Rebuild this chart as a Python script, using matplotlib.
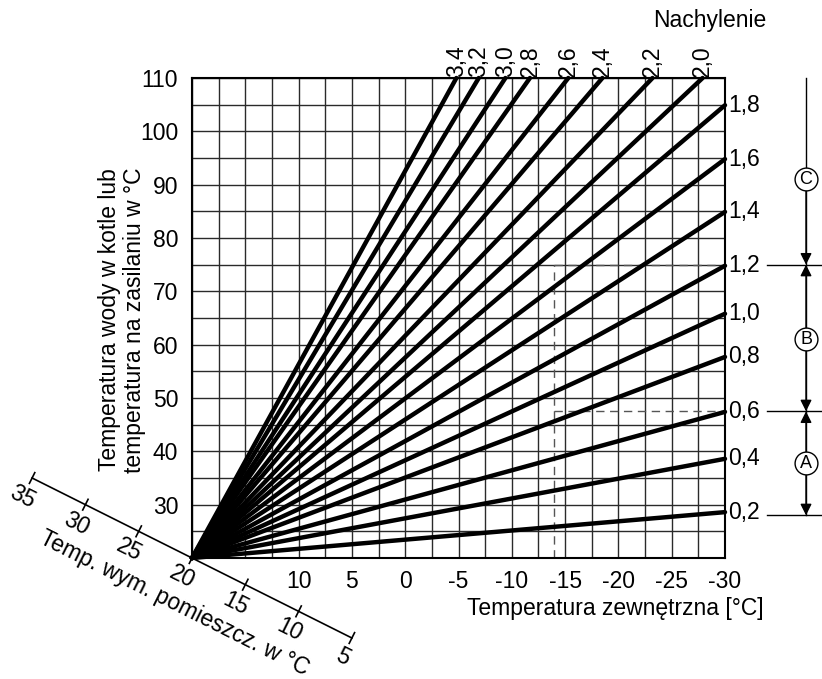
import matplotlib.pyplot as plt
import numpy as np

plt.rcParams['font.family'] = ['Liberation Sans', 'DejaVu Sans']

# heating curves, all start at room temp 20 / outside 20 / flow 20
slopes = ['0,2', '0,4', '0,6', '0,8', '1,0', '1,2', '1,4', '1,6', '1,8',
          '2,0', '2,2', '2,4', '2,6', '2,8', '3,0', '3,2', '3,4']
end_out = [-30, -30, -30, -30, -30, -30, -30, -30, -30,
           -27.9, -23.2, -18.5, -15.3, -11.7, -9.4, -6.9, -4.8]
end_flow = [28.6, 38.6, 47.4, 57.7, 65.8, 74.8, 84.9, 94.8, 104.9,
            110, 110, 110, 110, 110, 110, 110, 110]
origin = 20

x_ticks = [10, 5, 0, -5, -10, -15, -20, -25, -30]
y_ticks = [30, 40, 50, 60, 70, 80, 90, 100, 110]
room_ticks = [35, 30, 25, 20, 15, 10, 5]

# example reading (dashed) and zones A/B/C
ex_out = -14
ex_flow = [75, 47.5]
zone_edges = [28, 47.5, 75, 110]
zone_names = ['A', 'B', 'C']
zone_label_y = [37.8, 61, 91]

fs = 16.5
fig = plt.figure(figsize=(8.22, 6.79), dpi=100)
ax = fig.add_axes([192/822, 121/679, 533/822, 480/679])
ax.set_xlim(20, -30)
ax.set_ylim(20, 110)

ax.set_xticks(x_ticks)
ax.set_xticklabels([str(v) for v in x_ticks])
ax.set_yticks(y_ticks)
ax.set_xticks(np.arange(-30, 20.1, 2.5), minor=True)
ax.set_yticks(np.arange(20, 110.1, 5), minor=True)
ax.grid(which='both', color='#2a2a2a', lw=1.0)
ax.tick_params(which='both', length=0, labelsize=fs)
ax.tick_params(axis='x', pad=9)
ax.tick_params(axis='y', pad=10)
for s in ax.spines.values():
    s.set_linewidth(1.5)
ax.set_axisbelow(True)

for lab, xo, yf in zip(slopes, end_out, end_flow):
    ax.plot([origin, xo], [origin, yf], color='black', lw=3.2,
            solid_capstyle='round', clip_on=False, zorder=3)
    if yf >= 110:
        ax.annotate(lab, (xo, yf), xytext=(0, 1), textcoords='offset points',
                    rotation=90, ha='center', va='bottom', fontsize=fs)
    else:
        ax.annotate(lab, (xo, yf), xytext=(2, 0), textcoords='offset points',
                    ha='left', va='center', fontsize=fs)

# dashed reading lines
dash = dict(color='#555555', lw=1.0, dashes=(6, 4), zorder=2.5)
ax.plot([ex_out, ex_out], [20, ex_flow[0]], **dash)
for yv in ex_flow:
    ax.plot([ex_out, -30], [yv, yv], **dash)

# zone markers on the right
xz = -37.6
for yv in zone_edges[:3]:
    ax.plot([-33.9, -39.2], [yv, yv], color='black', lw=1.0, clip_on=False)
ax.plot([xz, xz], [zone_edges[0], zone_edges[3]], color='black', lw=1.0, clip_on=False)
arrow = dict(arrowstyle='-|>', color='black', lw=1.0, mutation_scale=17, shrinkA=0, shrinkB=0)
for lo, hi, nm, yl in zip(zone_edges[:3], zone_edges[1:], zone_names, zone_label_y):
    ax.annotate('', xy=(xz, lo), xytext=(xz, yl), arrowprops=arrow, annotation_clip=False)
    if nm != 'C':
        ax.annotate('', xy=(xz, hi), xytext=(xz, yl), arrowprops=arrow, annotation_clip=False)
    ax.scatter([xz], [yl], s=270, facecolor='white', edgecolor='black', lw=1.0,
               zorder=5, clip_on=False)
    ax.text(xz, yl, nm, ha='center', va='center', fontsize=13, zorder=6)

# oblique room-temperature axis (line flow = outside = room temp)
fig.canvas.draw()
tr = ax.transData
inv = tr.inverted()
p0 = tr.transform((room_ticks[0], room_ticks[0]))
p1 = tr.transform((room_ticks[-1], room_ticks[-1]))
d = (p1 - p0) / np.hypot(*(p1 - p0))
nrm = np.array([d[1], -d[0]])  # points below the line
ang = np.degrees(np.arctan2(d[1], d[0]))
ax.plot([room_ticks[0], room_ticks[-1]], [room_ticks[0], room_ticks[-1]],
        color='black', lw=1.2, clip_on=False)
for r in room_ticks:
    pc = tr.transform((r, r))
    a = inv.transform(pc + nrm * 6)
    b = inv.transform(pc - nrm * 6)
    ax.plot([a[0], b[0]], [a[1], b[1]], color='black', lw=1.2, clip_on=False)
    t = inv.transform(pc + nrm * 21)
    ax.text(t[0], t[1], str(r), rotation=ang, rotation_mode='anchor',
            ha='center', va='center', fontsize=fs, clip_on=False)
pc = tr.transform((19.6, 19.6))
t = inv.transform(pc + nrm * 48)
ax.text(t[0], t[1], 'Temp. wym. pomieszcz. w °C', rotation=ang, rotation_mode='anchor',
        ha='center', va='center', fontsize=fs, clip_on=False)

fig.text(710/822, 1 - 20/679, 'Nachylenie', ha='center', va='center', fontsize=fs)
fig.text(764/822, 1 - 609/679, 'Temperatura zewnętrzna [°C]', ha='right', va='center',
         fontsize=fs)
fig.text(122/822, 1 - 320/679, 'Temperatura wody w kotle lub\ntemperatura na zasilaniu w °C',
         rotation=90, ha='center', va='center', fontsize=fs, multialignment='center',
         linespacing=1.1)

fig.savefig('out.png', dpi=100)
